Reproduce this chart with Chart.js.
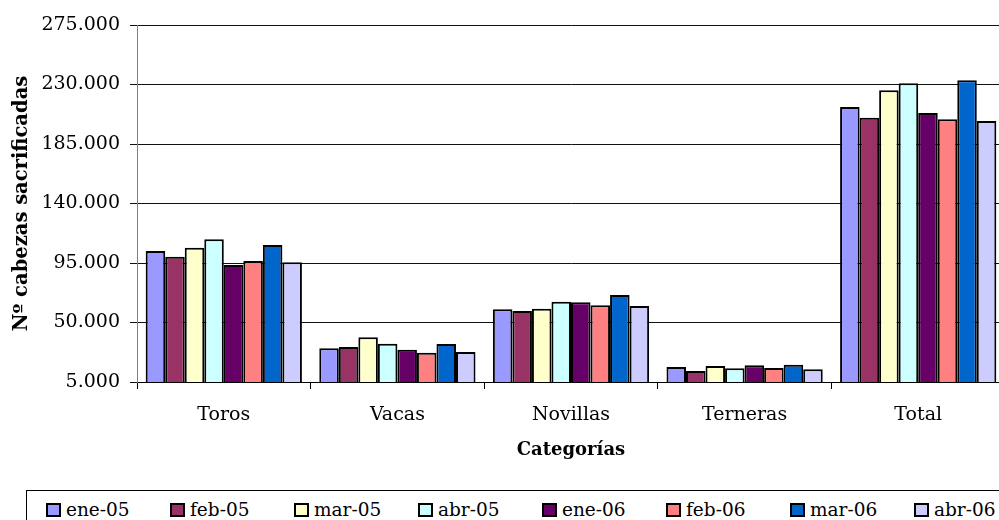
<!DOCTYPE html>
<html>
<head>
<meta charset="utf-8">
<script src="https://cdn.jsdelivr.net/npm/chart.js@4"></script>
<style>
  html, body { margin: 0; padding: 0; background: #fff; overflow: hidden; }
  #wrap { position: relative; width: 1010px; height: 520px; }
  #legend {
    position: absolute; left: 26px; top: 490px; width: 1000px; height: 40px;
    border: 1px solid #000; box-sizing: border-box;
    font-family: "DejaVu Serif", serif; font-size: 18.5px; color: #000;
  }
  .item { position: absolute; top: 8px; display: flex; align-items: center; white-space: nowrap; }
  .sw { width: 11px; height: 10px; border: 2px solid #000; margin-right: 5px; }
</style>
</head>
<body>
<div id="wrap">
  <canvas id="chart" width="1010" height="470"></canvas>
  <div id="legend"></div>
</div>
<script>
const CATEGORIES = ["Toros", "Vacas", "Novillas", "Terneras", "Total"];
const MONTHS = ["ene-05", "feb-05", "mar-05", "abr-05", "ene-06", "feb-06", "mar-06", "abr-06"];

// head counts per category, one array per month
const ENE_05 = [104100, 30500, 60000, 16300, 213000];
const FEB_05 = [99800, 31500, 58700, 13300, 204900];
const MAR_05 = [106600, 38800, 60400, 17100, 225600];
const ABR_05 = [112900, 34000, 65700, 15400, 230900];
const ENE_06 = [93500, 29400, 65300, 17600, 208400];
const FEB_06 = [96500, 27200, 63000, 15600, 203700];
const MAR_06 = [108600, 33700, 70800, 18100, 233200];
const ABR_06 = [95500, 27700, 62500, 14600, 202400];
const SERIES = [ENE_05, FEB_05, MAR_05, ABR_05, ENE_06, FEB_06, MAR_06, ABR_06];

const COLORS = ["#9999FF", "#993366", "#FFFFCC", "#CCFFFF", "#660066", "#FF8080", "#0066CC", "#CCCCFF"];

const Y_MIN = 5000, Y_MAX = 275000, Y_STEP = 45000;

// 275000 -> "275.000"
function fmt(v) {
  return String(v).replace(/\B(?=(\d{3})+(?!\d))/g, ".");
}

Chart.defaults.font.family = "'DejaVu Serif', serif";
Chart.defaults.color = "#000";

new Chart(document.getElementById("chart").getContext("2d"), {
  type: "bar",
  data: {
    labels: CATEGORIES,
    datasets: SERIES.map((values, i) => ({
      label: MONTHS[i],
      data: values,
      backgroundColor: COLORS[i],
      borderColor: "#000",
      borderWidth: 2,
      categoryPercentage: 0.9,
      barPercentage: 1.0
    }))
  },
  options: {
    responsive: false,
    animation: false,
    layout: { padding: { top: 25, right: 5, left: 0, bottom: 0 } },
    plugins: { legend: { display: false }, tooltip: { enabled: false } },
    scales: {
      x: {
        z: 1,
        border: { color: "#000", width: 1 },
        grid: { drawOnChartArea: false, tickLength: 7, color: "#000" },
        ticks: { font: { size: 19 }, padding: 15 },
        title: {
          display: true, text: "Categorías",
          font: { size: 18, weight: "bold" }, padding: { top: 0, bottom: 9 }
        },
        afterFit(scale) { scale.height = 88; }
      },
      y: {
        min: Y_MIN,
        max: Y_MAX,
        border: { color: "#808080", width: 1 },
        grid: { color: "#111", tickLength: 7 },
        ticks: { stepSize: Y_STEP, font: { size: 19 }, padding: 10, callback: v => fmt(v) },
        title: {
          display: true, text: "Nº cabezas sacrificadas",
          font: { size: 19.5, weight: "bold" }, padding: { top: 10, bottom: 0 }
        },
        afterFit(scale) { scale.width = 137; }
      }
    }
  }
});

// Excel-style legend: equal spacing per entry
const legend = document.getElementById("legend");
MONTHS.forEach((m, i) => {
  const item = document.createElement("div");
  item.className = "item";
  item.style.left = (19 + 124 * i) + "px";
  item.innerHTML = `<span class="sw" style="background:${COLORS[i]}"></span><span>${m}</span>`;
  legend.appendChild(item);
});
</script>
</body>
</html>
